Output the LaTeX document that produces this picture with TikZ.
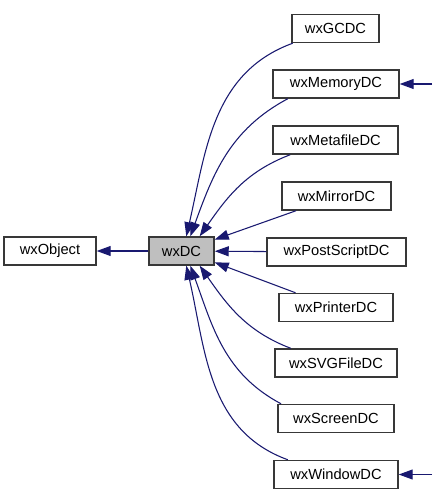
\documentclass[tikz,border=0pt]{standalone}
\usepackage{fontspec}
\setmainfont{Liberation Sans}
\usepackage{tikz}
\usetikzlibrary{arrows.meta}

\definecolor{edgeblue}{RGB}{25,25,112}
\definecolor{boxgray}{RGB}{56,56,56}
\definecolor{basefill}{RGB}{191,191,191}

\tikzset{
	cls/.style={draw=boxgray, line width=1.1pt, fill=white, minimum height=21pt, inner sep=0pt, font=\fontsize{11}{13}\selectfont},
	inh/.style={draw=edgeblue, line width=0.8pt, -{Triangle[length=10.5pt,width=7.5pt]}},
}

\begin{document}
\begin{tikzpicture}[x=0.75pt, y=0.75pt]
		\useasboundingbox (0,0) rectangle (432,-499);

		% classes
		\node[cls, minimum width=69pt] (obj) at (50,-251) {wxObject};
		\node[cls, minimum width=48.75pt, fill=basefill] (dc) at (181.5,-251) {wxDC};

		\node[cls, minimum width=65.25pt] (gcdc) at (335.5,-28.5) {wxGCDC};
		\node[cls, minimum width=94.5pt] (memdc) at (336,-84) {wxMemoryDC};
		\node[cls, minimum width=93.75pt] (metadc) at (335.5,-140) {wxMetafileDC};
		\node[cls, minimum width=81.75pt] (mirrordc) at (336.5,-196) {wxMirrorDC};
		\node[cls, minimum width=104.25pt] (psdc) at (336.5,-252) {wxPostScriptDC};
		\node[cls, minimum width=85.5pt] (printdc) at (336,-307.5) {wxPrinterDC};
		\node[cls, minimum width=91.5pt] (svgdc) at (336,-363) {wxSVGFileDC};
		\node[cls, minimum width=87pt] (screendc) at (336,-418.5) {wxScreenDC};
		\node[cls, minimum width=93pt] (windc) at (336,-474.5) {wxWindowDC};

		% inheritance
		\draw[inh] (dc) -- (obj);

		\draw[inh] (gcdc.199) to[out=200, in=77] (dc.72);
		\draw[inh] (memdc.197) to[out=208, in=70] (dc.59);
		\draw[inh] (metadc.198) to[out=201, in=55] (dc.39);
		\draw[inh] (mirrordc.200) -- (dc.19);
		\draw[inh] (psdc) -- (dc);
		\draw[inh] (printdc.160) -- (dc.-19);
		\draw[inh] (svgdc.162) to[out=159, in=-55] (dc.-39);
		\draw[inh] (screendc.165) to[out=152, in=-70] (dc.-59);
		\draw[inh] (windc.163) to[out=160, in=-77] (dc.-72);

		\coordinate (memin) at (432,-84);
		\coordinate (winin) at (432,-474.5);
		\draw[inh] (memin) -- (memdc);
		\draw[inh] (winin) -- (windc);
	\end{tikzpicture}
\end{document}
